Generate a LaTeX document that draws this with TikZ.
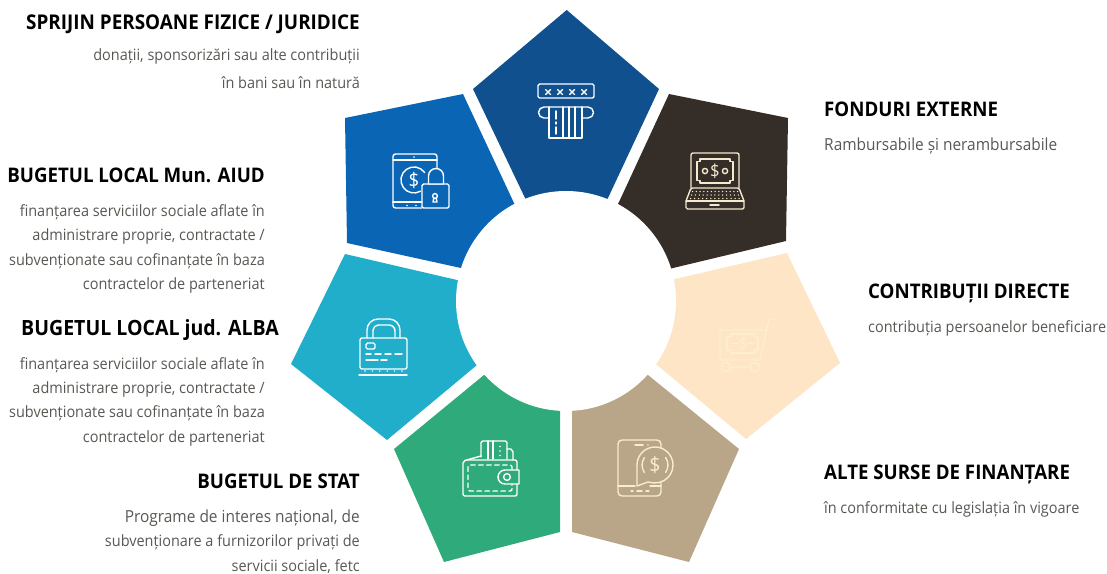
\documentclass[tikz,border=0pt]{standalone}
\usepackage{fontspec}
\setmainfont[FakeStretch=0.93]{Open Sans}
\definecolor{ctop}{HTML}{10508F}
\definecolor{cblue}{HTML}{0B65B5}
\definecolor{cbrown}{HTML}{352D27}
\definecolor{ccyan}{HTML}{20AECB}
\definecolor{cgreen}{HTML}{2FAA7A}
\definecolor{ctan}{HTML}{B9A587}
\definecolor{ccream}{HTML}{FDE5C5}
\definecolor{cbody}{HTML}{5A5753}
\definecolor{lap}{HTML}{F5E9CE}
\definecolor{crt}{HTML}{FDEFCB}
\definecolor{phn}{HTML}{F8EDCF}
\tikzset{
  petal/.style={fill=#1,draw=none},
  head/.style={font=\fontsize{20.1}{20}\selectfont\bfseries,text=black,inner sep=0pt},
  headbig/.style={font=\fontsize{21}{21}\selectfont\bfseries,text=black,inner sep=0pt},
  headmid/.style={font=\fontsize{20.3}{20}\selectfont\bfseries,text=black,inner sep=0pt},
  bodyt/.style={font=\fontsize{15.55}{15}\selectfont,text=cbody,inner sep=0pt},
  bodybig/.style={font=\fontsize{16.6}{16}\selectfont,text=cbody,inner sep=0pt},
  ico/.style={draw=#1,line width=1.4pt,line cap=round,line join=round},
  dol/.style={font=\fontsize{#1}{#1}\selectfont,inner sep=0pt}
}
\begin{document}
\begin{tikzpicture}[x=1pt,y=-1pt]
\useasboundingbox (0,0) rectangle (1107,573);
% petals
\fill[petal=ctop] (566.7,10) -- (659,89) -- (608,198) -- (566,240) -- (525,198) -- (473,89) -- cycle;
\fill[petal=cblue] (463,94) -- (514,203) -- (566,301) -- (461,268) -- (347,243) -- (345,118) -- cycle;
\fill[petal=cbrown] (669,94) -- (788,118) -- (786,241) -- (673,268) -- (566,301) -- (619,202) -- cycle;
\fill[petal=ccyan] (345,254) -- (457,280) -- (566,301) -- (477,365) -- (387,440) -- (291,364) -- cycle;
\fill[petal=cgreen] (484,375) -- (545,340) -- (560,411) -- (560,532) -- (444,562) -- (394,449) -- cycle;
\fill[petal=ctan] (572,411) -- (590,340) -- (648,375) -- (739,449) -- (689,562) -- (572,532) -- cycle;
\fill[petal=ccream] (675,279) -- (787,253) -- (840,363) -- (746,439) -- (657,365) -- (566,301) -- cycle;
\node[circle,fill=white,minimum size=220pt,inner sep=0pt] (hub) at (566,301) {};

% top icon
\begin{scope}[ico=white]
\draw[rounded corners=1.5pt] (538,84) rectangle (594,98);
\foreach \q in {548,560,572,584} \draw (\q-2.5,89.5) -- (\q+2.5,94.5) (\q-2.5,94.5) -- (\q+2.5,89.5);
\draw (549,118) -- (544,118) arc[start angle=-270,end angle=-90,radius=5.5] -- (588,107) arc[start angle=-90,end angle=90,radius=5.5] -- (582,118);
\draw (549,107) -- (549,138) -- (582,138) -- (582,107);
\draw (563,107) -- (563,138) (569,107) -- (569,138) (575,107) -- (575,138);
\draw (556,111) -- (556,119) (556,122) -- (556,124) (556,127) -- (556,134);
\end{scope}

% tablet icon
\begin{scope}[ico=white]
\draw[rounded corners=2.5pt] (422,208) -- (393,208) -- (393,154) -- (437,154) -- (437,168);
\draw (393,160) -- (437,160) (393,202) -- (422,202);
\fill[white] (414,157) circle (0.9) (407,205.5) circle (0.9) (416,205.5) circle (0.9);
\draw (424.6,172.5) arc[start angle=-35,end angle=-300,radius=13];
\draw[rounded corners=1.5pt] (422,184) rectangle (449,208);
\draw[fill=cblue] (428.5,184) -- (428.5,176) arc[start angle=-180,end angle=0,radius=7.5] -- (443.5,184) -- cycle;
\draw (435,196) circle (2.4);
\draw (433.8,198.2) -- (433,202) -- (437,202) -- (436.2,198.2);
\node[dol=20,text=white] (dolA) at (414,180) {\$};
\end{scope}

% laptop icon
\begin{scope}[ico=lap]
\draw[rounded corners=2pt] (691,188) -- (691,153) -- (739,153) -- (739,188);
\draw (700,159) -- (730,159) -- (730,161.5) -- (733,161.5) -- (733,180.5) -- (730,180.5) -- (730,183) -- (700,183) -- (700,180.5) -- (697,180.5) -- (697,161.5) -- (700,161.5) -- cycle;
\draw (705,171) circle (2.6) (725,171) circle (2.6);
\node[dol=18,text=lap] (dolB) at (715,171) {\$};
\draw[rounded corners=1.5pt] (691,188) -- (739,188) -- (744,201) -- (744,209) -- (686,209) -- (686,201) -- cycle;
\draw (686,201) -- (744,201);
\foreach \q in {0,1,...,12} {\fill[lap] (692.5+\q*3.75,191.5) circle (0.75) (691.5+\q*3.9,195) circle (0.75) (690.5+\q*4.05,198.5) circle (0.75);}
\draw[line width=1.6pt] (710,205) -- (719,205);
\end{scope}

% cart icon
\begin{scope}[ico=crt]
\draw (777,319) -- (769,319) -- (760,360) -- (726,360);
\draw[rounded corners=2pt] (726,360) -- (720,360) -- (720,330) -- (767,330);
\draw (731,334) -- (755,334) -- (755,337) -- (758,337) -- (758,350) -- (755,350) -- (755,353) -- (731,353) -- (731,350) -- (727,350) -- (727,337) -- (731,337) -- cycle;
\draw (731,343.5) -- (737,343.5) (749,343.5) -- (754,343.5);
\node[dol=16,text=crt] (dolC) at (743,343.5) {\$};
\draw (726,367) circle (4.5) (755,367) circle (4.5) (730.5,367) -- (750.5,367);
\end{scope}

% phone icon
\begin{scope}[ico=phn]
\draw[rounded corners=4pt] (661,452) -- (661,440) -- (618,440) -- (618,496) -- (661,496) -- (661,482);
\draw (618,486) -- (635,486) (650,486) -- (661,486);
\draw[line width=1.5pt] (635,445) -- (643,445);
\fill[phn] (648,445) circle (0.8);
\draw[line width=1.4pt] (631,491) -- (633,491) (637,491) -- (642,491) (646,491) -- (649,491);
\draw[fill=ctan] (637,486) -- (637,465) arc[start angle=-180,end angle=95,radius=18] -- (648,482) -- cycle;
\draw (644.4,472.5) arc[start angle=-215,end angle=-145,radius=13] (665.6,457.5) arc[start angle=-35,end angle=35,radius=13];
\node[dol=21,text=phn] (dolD) at (655,465) {\$};
\end{scope}

% wallet icon
\begin{scope}[ico=white]
\draw[rounded corners=1.5pt] (481,457) -- (481,441) -- (507,441) -- (507,459);
\draw (488,441) -- (488,459) (493,441) -- (493,459);
\draw (507,449) -- (511,449) -- (513,452) -- (513,460);
\fill[white] (500,446.5) circle (0.8) (500,451) circle (0.8) (500,455.5) circle (0.8);
\draw[rounded corners=2pt] (517,470) -- (517,460) -- (467,460);
\draw[rounded corners=2pt] (481,456) -- (463,461) -- (463,496) -- (517,496) -- (517,484);
\draw[dash pattern=on 4.5pt off 3.5pt,rounded corners=2pt] (468,465) rectangle (512,491);
\draw[fill=cgreen] (519,484) -- (505,484) arc[start angle=-270,end angle=-90,radius=7] -- (519,470) -- cycle;
\draw (507,477) circle (3.4);
\end{scope}

% card-lock icon
\begin{scope}[ico=white]
\draw[rounded corners=2pt] (360,338) rectangle (407,369);
\draw (367,338) -- (367,330) arc[start angle=-180,end angle=-90,radius=11] -- (389,319) arc[start angle=-90,end angle=0,radius=11] -- (400,338);
\draw (373,338) -- (373,331) arc[start angle=-180,end angle=-90,radius=6] -- (389,325) arc[start angle=-90,end angle=0,radius=6] -- (395,338);
\draw[rounded corners=1.5pt] (366,343) rectangle (375,349);
\draw (366,354) -- (371,354) (375,354) -- (381,354) (385,354) -- (391,354) (395,354) -- (402,354);
\draw (366,360) -- (378,360) (381,360) -- (387,360);
\foreach \q in {365,372.4,379.8,387.2,394.6,402} \fill[white] (\q,371) circle (0.8);
\draw (359,375) -- (407,375);
\end{scope}

% text
\node[headmid,anchor=base east] (t1) at (360,29) {SPRIJIN PERSOANE FIZICE / JURIDICE};
\node[bodyt,anchor=base east] (t1a) at (360,60) {donații, sponsorizări sau alte contribuții};
\node[bodyt,anchor=base east] (t1b) at (360,88) {în bani sau în natură};
\node[head,anchor=base east] (t2) at (265,182) {BUGETUL LOCAL Mun. AIUD};
\node[bodyt,anchor=base east] (t2a) at (265,216) {finanțarea serviciilor sociale aflate în};
\node[bodyt,anchor=base east] (t2b) at (265,240) {administrare proprie, contractate /};
\node[bodyt,anchor=base east] (t2c) at (265,265) {subvenționate sau cofinanțate în baza};
\node[bodyt,anchor=base east] (t2d) at (265,289) {contractelor de parteneriat};
\node[headbig,anchor=base east] (t3) at (279,335) {BUGETUL LOCAL jud. ALBA};
\node[bodyt,anchor=base east] (t3a) at (265,369) {finanțarea serviciilor sociale aflate în};
\node[bodyt,anchor=base east] (t3b) at (265,393) {administrare proprie, contractate /};
\node[bodyt,anchor=base east] (t3c) at (265,417) {subvenționate sau cofinanțate în baza};
\node[bodyt,anchor=base east] (t3d) at (265,442) {contractelor de parteneriat};
\node[head,anchor=base east] (t4) at (360,488) {BUGETUL DE STAT};
\node[bodybig,anchor=base east] (t4a) at (360,522) {Programe de interes național, de};
\node[bodyt,anchor=base east] (t4b) at (360,546) {subvenționare a furnizorilor privați de};
\node[bodyt,anchor=base east] (t4c) at (360,571) {servicii sociale, fetc};
\node[head,anchor=base west] (t5) at (824,116) {FONDURI EXTERNE};
\node[bodybig,anchor=base west] (t5a) at (824,150) {Rambursabile și nerambursabile};
\node[head,anchor=base west] (t6) at (868,298) {CONTRIBUȚII DIRECTE};
\node[bodyt,anchor=base west] (t6a) at (868,332) {contribuția persoanelor beneficiare};
\node[head,anchor=base west] (t7) at (824,479) {ALTE SURSE DE FINANȚARE};
\node[bodyt,anchor=base west] (t7a) at (824,513) {în conformitate cu legislația în vigoare};
\end{tikzpicture}
\end{document}
